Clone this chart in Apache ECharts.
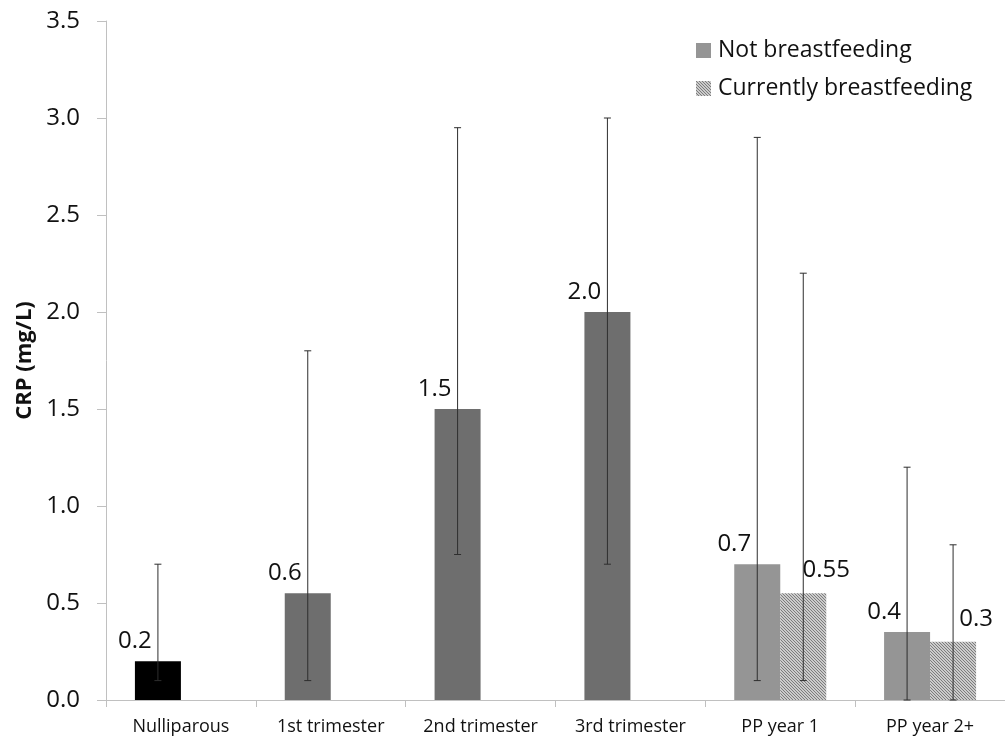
<!DOCTYPE html>
<html>
<head>
<meta charset="utf-8">
<script src="https://cdn.jsdelivr.net/npm/echarts@6/dist/echarts.min.js"></script>
<style>
  html, body { margin: 0; padding: 0; background: #fff; }
  #chart { width: 1005px; height: 743px; }
</style>
</head>
<body>
<div id="chart"></div>
<script>
const categories = ['Nulliparous', '1st trimester', '2nd trimester', '3rd trimester', 'PP year 1', 'PP year 2+'];
const yTicks = [0, 0.5, 1.0, 1.5, 2.0, 2.5, 3.0, 3.5];

// Not breastfeeding (also used for nulliparous and pregnancy groups)
const notBF = [0.2, 0.55, 1.5, 2.0, 0.7, 0.35];
const notBFLabels = ['0.2', '0.6', '1.5', '2.0', '0.7', '0.4'];
const notBFLow = [0.1, 0.1, 0.75, 0.7, 0.1, 0];
const notBFHigh = [0.7, 1.8, 2.95, 3.0, 2.9, 1.2];

// Currently breastfeeding
const curBF = [null, null, null, null, 0.55, 0.3];
const curBFLabels = ['', '', '', '', '0.55', '0.3'];
const curBFLow = [null, null, null, null, 0.1, 0];
const curBFHigh = [null, null, null, null, 2.2, 0.8];

const barColors = ['#000000', '#6e6e6e', '#6e6e6e', '#6e6e6e', '#959595', '#959595'];
const BAR_W = 46;
const FONT = '"Open Sans", sans-serif';

function hatch() {
  const c = document.createElement('canvas');
  c.width = 3; c.height = 3;
  const ctx = c.getContext('2d');
  ctx.fillStyle = '#cbcbcb';
  ctx.fillRect(0, 0, 3, 3);
  ctx.fillStyle = '#7c7c7c';
  for (let i = 0; i < 3; i++) ctx.fillRect(i, i, 1, 1);
  return { image: c, repeat: 'repeat' };
}
const hatchFill = hatch();

function errorSeries(name, lows, highs, offset) {
  const data = [];
  categories.forEach((c, i) => {
    if (highs[i] != null) data.push([i, lows[i], highs[i]]);
  });
  return {
    name: name,
    type: 'custom',
    z: 5,
    silent: true,
    data: data,
    encode: { x: 0, y: [1, 2] },
    renderItem: (params, api) => {
      const x = api.coord([api.value(0), 0])[0] + offset;
      const y1 = api.coord([api.value(0), api.value(1)])[1];
      const y2 = api.coord([api.value(0), api.value(2)])[1];
      const st = { stroke: '#2e2e2e', lineWidth: 1 };
      const cap = 3.5;
      return {
        type: 'group',
        children: [
          { type: 'line', shape: { x1: x, y1: y1, x2: x, y2: y2 }, style: st },
          { type: 'line', shape: { x1: x - cap, y1: y1, x2: x + cap, y2: y1 }, style: st },
          { type: 'line', shape: { x1: x - cap, y1: y2, x2: x + cap, y2: y2 }, style: st }
        ]
      };
    }
  };
}

const chart = echarts.init(document.getElementById('chart'));
chart.setOption({
  animation: false,
  backgroundColor: '#fff',
  grid: { left: 106, right: 0, top: 21, bottom: 43 },
  legend: {
    data: ['Not breastfeeding', 'Currently breastfeeding'],
    orient: 'vertical',
    left: 691,
    top: 34,
    itemWidth: 15,
    itemHeight: 15,
    itemGap: 15,
    icon: 'rect',
    textStyle: { fontFamily: FONT, fontSize: 23, color: '#111', padding: [0, 0, 0, 2] }
  },
  xAxis: {
    type: 'category',
    data: categories,
    axisLine: { lineStyle: { color: '#c0c0c0', width: 1 } },
    axisTick: { show: true, length: 7, lineStyle: { color: '#c0c0c0' } },
    axisLabel: { fontFamily: FONT, fontSize: 18, color: '#111', margin: 18 }
  },
  yAxis: {
    type: 'value',
    min: yTicks[0],
    max: yTicks[yTicks.length - 1],
    interval: 0.5,
    name: 'CRP (mg/L)',
    nameLocation: 'middle',
    nameGap: 68,
    nameTextStyle: { fontFamily: FONT, fontSize: 22, fontWeight: 'bold', color: '#111' },
    axisLine: { show: true, lineStyle: { color: '#c0c0c0', width: 1 } },
    axisTick: { show: true, length: 9, lineStyle: { color: '#c0c0c0' } },
    splitLine: { show: false },
    axisLabel: {
      fontFamily: FONT, fontSize: 24, color: '#111', margin: 26,
      formatter: v => v.toFixed(1)
    }
  },
  series: [
    {
      name: 'Not breastfeeding',
      type: 'bar',
      barWidth: BAR_W,
      barGap: '0%',
      itemStyle: { color: '#959595' },
      data: notBF.map((v, i) => ({ value: v, itemStyle: { color: barColors[i] } })),
      label: {
        show: true,
        position: 'top',
        distance: 8,
        offset: [-BAR_W / 2, 0],
        fontFamily: FONT, fontSize: 24, color: '#111',
        formatter: p => notBFLabels[p.dataIndex]
      }
    },
    {
      name: 'Currently breastfeeding',
      type: 'bar',
      barWidth: BAR_W,
      barGap: '0%',
      itemStyle: { color: hatchFill },
      data: curBF.map(v => (v == null ? '-' : v)),
      label: {
        show: true,
        position: 'top',
        distance: 11,
        offset: [BAR_W / 2, 0],
        fontFamily: FONT, fontSize: 24, color: '#111',
        formatter: p => curBFLabels[p.dataIndex]
      }
    },
    errorSeries('err-not', notBFLow, notBFHigh, -BAR_W / 2),
    errorSeries('err-cur', curBFLow, curBFHigh, BAR_W / 2)
  ]
});
</script>
</body>
</html>
